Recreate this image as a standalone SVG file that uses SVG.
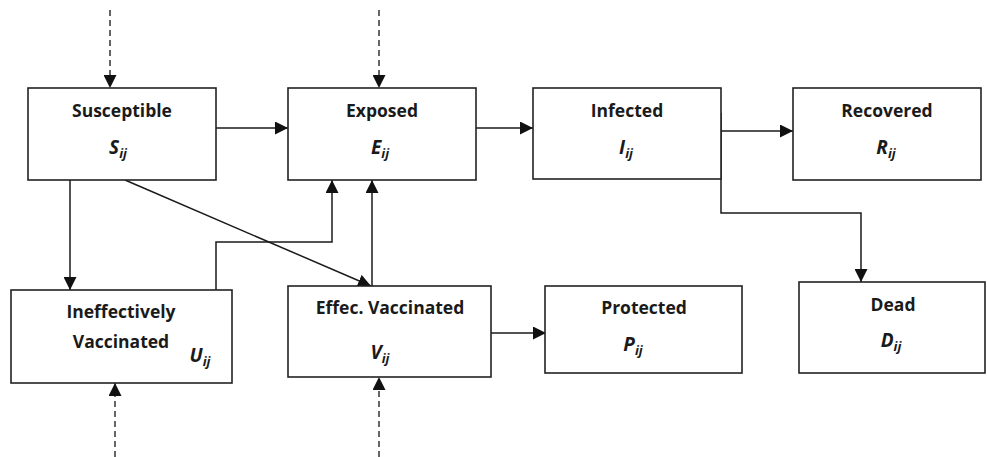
<svg xmlns="http://www.w3.org/2000/svg" width="987" height="457" viewBox="0 0 987 457">
<style>
.box{fill:#fff;stroke:#222;stroke-width:1.6}
.t{font-family:"Open Sans","Liberation Sans",sans-serif;font-weight:bold;font-size:17.5px;fill:#1a1a1a;text-anchor:middle}
.v{font-family:"Open Sans","Liberation Sans",sans-serif;font-weight:bold;font-style:italic;font-size:19px;fill:#1a1a1a;text-anchor:middle}
.sub{font-size:13px}
.c{fill:none;stroke:#1a1a1a;stroke-width:1.5}
.d{fill:none;stroke:#333;stroke-width:1.5;stroke-dasharray:6,4}
</style>
<defs>
<marker id="ah" markerUnits="userSpaceOnUse" markerWidth="13" markerHeight="13" viewBox="0 0 13 13" refX="13" refY="6.5" orient="auto">
<path d="M0,0 L13,6.5 L0,13 Z" fill="#111"/>
</marker>
</defs>
<g id="connectors">
<path class="d" d="M110,10 V88" marker-end="url(#ah)"/>
<path class="d" d="M379,10 V88" marker-end="url(#ah)"/>
<path class="d" d="M115,457 V383" marker-end="url(#ah)"/>
<path class="d" d="M379,457 V377" marker-end="url(#ah)"/>
<path class="c" d="M216,128 H288" marker-end="url(#ah)"/>
<path class="c" d="M476,128 H533" marker-end="url(#ah)"/>
<path class="c" d="M721,131 H793" marker-end="url(#ah)"/>
<path class="c" d="M721,113 V213 H861 V282" marker-end="url(#ah)"/>
<path class="c" d="M70,180 V290" marker-end="url(#ah)"/>
<path class="c" d="M125,180 L371,286" marker-end="url(#ah)"/>
<path class="c" d="M216,290 V242 H332 V180" marker-end="url(#ah)"/>
<path class="c" d="M372,286 V180" marker-end="url(#ah)"/>
<path class="c" d="M491,333 H546" marker-end="url(#ah)"/>
</g>
<g id="susceptible">
<rect class="box" x="28" y="88" width="188" height="92"/>
<text class="t" x="122" y="117">Susceptible</text>
<text class="v" x="118" y="154">S<tspan class="sub" dy="4">ij</tspan></text>
</g>
<g id="exposed">
<rect class="box" x="288" y="88" width="188" height="92"/>
<text class="t" x="382" y="117">Exposed</text>
<text class="v" x="380" y="154">E<tspan class="sub" dy="4">ij</tspan></text>
</g>
<g id="infected">
<rect class="box" x="533" y="88" width="188" height="91"/>
<text class="t" x="627" y="117">Infected</text>
<text class="v" x="626" y="154">I<tspan class="sub" dy="4">ij</tspan></text>
</g>
<g id="recovered">
<rect class="box" x="793" y="88" width="188" height="92"/>
<text class="t" x="887" y="117">Recovered</text>
<text class="v" x="886" y="154">R<tspan class="sub" dy="4">ij</tspan></text>
</g>
<g id="ineffectively">
<rect class="box" x="11" y="290" width="221" height="93"/>
<text class="t" x="121" y="318">Ineffectively</text>
<text class="t" x="121" y="348">Vaccinated</text>
<text class="v" x="200" y="362">U<tspan class="sub" dy="4">ij</tspan></text>
</g>
<g id="effective">
<rect class="box" x="288" y="286" width="203" height="91"/>
<text class="t" x="390" y="314">Effec. Vaccinated</text>
<text class="v" x="380" y="359">V<tspan class="sub" dy="4">ij</tspan></text>
</g>
<g id="protected">
<rect class="box" x="545" y="286" width="197" height="87"/>
<text class="t" x="644" y="314">Protected</text>
<text class="v" x="633" y="351">P<tspan class="sub" dy="4">ij</tspan></text>
</g>
<g id="dead">
<rect class="box" x="799" y="282" width="186" height="91"/>
<text class="t" x="893" y="311">Dead</text>
<text class="v" x="891" y="347">D<tspan class="sub" dy="4">ij</tspan></text>
</g>
</svg>
